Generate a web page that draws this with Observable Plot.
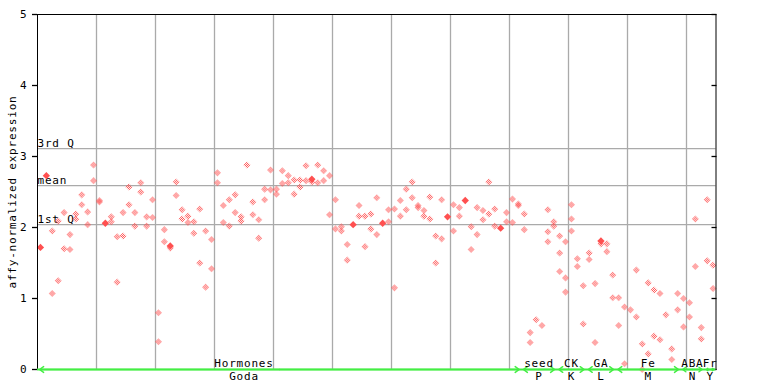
<!DOCTYPE html>
<html><head><meta charset="utf-8">
<script src="https://cdn.jsdelivr.net/npm/d3@7"></script>
<script src="https://cdn.jsdelivr.net/npm/@observablehq/plot@0.6"></script>
<style>
body{margin:0;background:#fff}
svg text{font-family:"DejaVu Sans Mono",monospace;letter-spacing:0.8px}
</style>
</head><body><div id="chart"></div>
<script>
// hollow (checkered) points per sample index 0..114
const hollow = [
[],[],[1.95,1.07],[2.09,1.25],[2.21,1.70],[1.90,1.69],[2.19,2.12],[2.46,2.32],[2.22,2.04],[2.88,2.66],
[2.38,2.36],[],[2.15,2.08],[1.87,1.23],[2.21,1.88],[2.57,2.32],[2.21,2.02],[2.63,2.50],[2.15,2.02],[2.39,2.14],
[0.80,0.39],[1.97,1.80],[1.71],[2.64,2.45],[2.25,2.12],[2.16,2.07],[2.08,1.92],[2.26,1.50],[1.95,1.16],[1.83,1.42],
[2.77,2.63],[2.31,2.07],[2.39,2.02],[2.46,2.21],[2.15,2.09],[2.88],[2.36,2.18],[2.11,1.85],[2.54,2.39],[2.81,2.53],
[2.54,2.47],[2.80,2.62],[2.73,2.63],[2.67,2.47],[2.67,2.57],[2.87,2.66],[2.64],[2.88,2.63],[2.80,2.66],[2.73,2.18],
[2.39,1.98],[2.01,1.95],[1.76,1.54],[],[2.31,2.16],[2.16,1.73],[2.19,1.98],[2.42,1.90],[],[2.25,2.08],
[2.26,1.15],[2.38,2.16],[2.54,2.25],[2.64,2.42],[2.31,2.28],[2.24,2.16],[2.43,2.12],[1.88,1.50],[2.39,1.84],[],
[2.32,1.95],[2.28,2.16],[],[2.01,1.69],[2.28,1.90],[2.24,2.11],[2.64,2.19],[2.26,2.02],[],[2.21,2.08],
[2.40,2.07],[2.33,2.31],[2.19,1.97],[0.52,0.38],[0.70],[0.62],[2.25,1.94,1.80],[2.08,2.02],[1.88,1.64,1.38],[1.80,1.29,1.09],
[2.32,2.12,1.95],[1.56,1.45],[1.18,0.64],[1.64,1.55],[1.21,0.38],[1.77],[1.77,1.66],[1.33,1.01],[1.01,0.62],[0.88,0.08],
[0.84],[1.40,0.74],[0.36,0.00],[1.22,0.22],[1.12,0.47],[1.07,0.42],[0.77],[0.29,0.14],[1.07,0.84],[1.00,0.60],
[0.94,0.74],[2.12,1.45],[0.59,0.43],[2.39,1.53],[1.47,1.14]
];
// solid points
const filledIdx = [0,1,11,22,46,53,58,69,72,78,95];
const filledVal = [1.72,2.73,2.06,1.74,2.68,2.04,2.06,2.15,2.38,1.99,1.81];

const statNames = ["3rd Q","mean","1st Q"];
const statValues = [3.11,2.59,2.04];

const groupNames = ["Hormones","seed","CK","GA","Fe","ABA","Fr"];
const subNames = ["Goda","P","K","L","M","N","Y"];
const groupStart = [0,82,88,93,98,109,113];
const groupEnd = [82,88,93,98,109,113,115];
const labelCenter = [35,85,90.5,95.5,103.5,111,114];

const yTicks = [0,1,2,3,4,5];
const nSamples = hollow.length;

const pts = hollow.flatMap((vs,i)=>vs.map(v=>({i:i+0.5,v})));
const solid = filledIdx.map((i,k)=>({i:i+0.5,v:filledVal[k]}));
const arrows = groupStart.flatMap((s,k)=>{
  const m=(s+groupEnd[k])/2;
  return [{a:m,b:s},{a:m,b:groupEnd[k]}];
});
const green = "#44ee44";
const red = "#ff5050";

const plot = Plot.plot({
  width:768, height:384,
  marginLeft:37, marginRight:52.5, marginTop:14, marginBottom:15,
  x:{domain:[0,nSamples], axis:null},
  y:{domain:[0,5], axis:null},
  style:{fontSize:"11px", color:"black", background:"white", overflow:"visible"},
  marks:[
    Plot.ruleX(d3.range(10,nSamples,10), {stroke:"#aaaaaa", strokeWidth:1.3}),
    Plot.ruleY(statValues, {stroke:"#aaaaaa", strokeWidth:1.3}),
    Plot.text(statNames, {y:(d,k)=>statValues[k], frameAnchor:"left", textAnchor:"start", lineAnchor:"bottom", dy:-2, fill:"black"}),
    Plot.dot(pts, {x:"i", y:"v", symbol:"diamond2", r:3.2, fill:"url(#chk)", stroke:"none"}),
    Plot.dot(solid, {x:"i", y:"v", symbol:"diamond2", r:3.3, fill:red, stroke:"none"}),
    Plot.frame({stroke:"black"}),
    Plot.axisY({ticks:yTicks, tickSize:5, tickPadding:5, label:null, tickFormat:d=>String(d), stroke:"black", strokeWidth:1.3}),
    Plot.axisY({anchor:"right", ticks:yTicks, tickSize:5, dx:-5, label:null, tickFormat:()=>"", stroke:"black", strokeWidth:1.3}),
    Plot.text(["affy-normalized expression"], {frameAnchor:"left", textAnchor:"middle", rotate:-90, dx:-25, fill:"black"}),
    Plot.ruleY([0], {stroke:green, strokeWidth:2}),
    Plot.arrow(arrows, {x1:"a", x2:"b", y1:0, y2:0, stroke:green, strokeWidth:1.5, headLength:5, headAngle:70, insetEnd:2}),
    Plot.text(groupNames, {x:(d,k)=>labelCenter[k], y:0, dy:-3, lineAnchor:"bottom", fill:"black"}),
    Plot.text(subNames, {x:(d,k)=>labelCenter[k], y:0, dy:3, lineAnchor:"top", fill:"black"})
  ]
});
const svg = d3.select(plot);
const defs = svg.insert("defs", ":first-child");
const pat = defs.append("pattern").attr("id","chk").attr("patternUnits","userSpaceOnUse")
  .attr("width",2).attr("height",2);
pat.append("rect").attr("x",0).attr("y",0).attr("width",1).attr("height",1).attr("fill",red);
pat.append("rect").attr("x",1).attr("y",1).attr("width",1).attr("height",1).attr("fill",red);
document.getElementById("chart").append(plot);
</script>
</body></html>
